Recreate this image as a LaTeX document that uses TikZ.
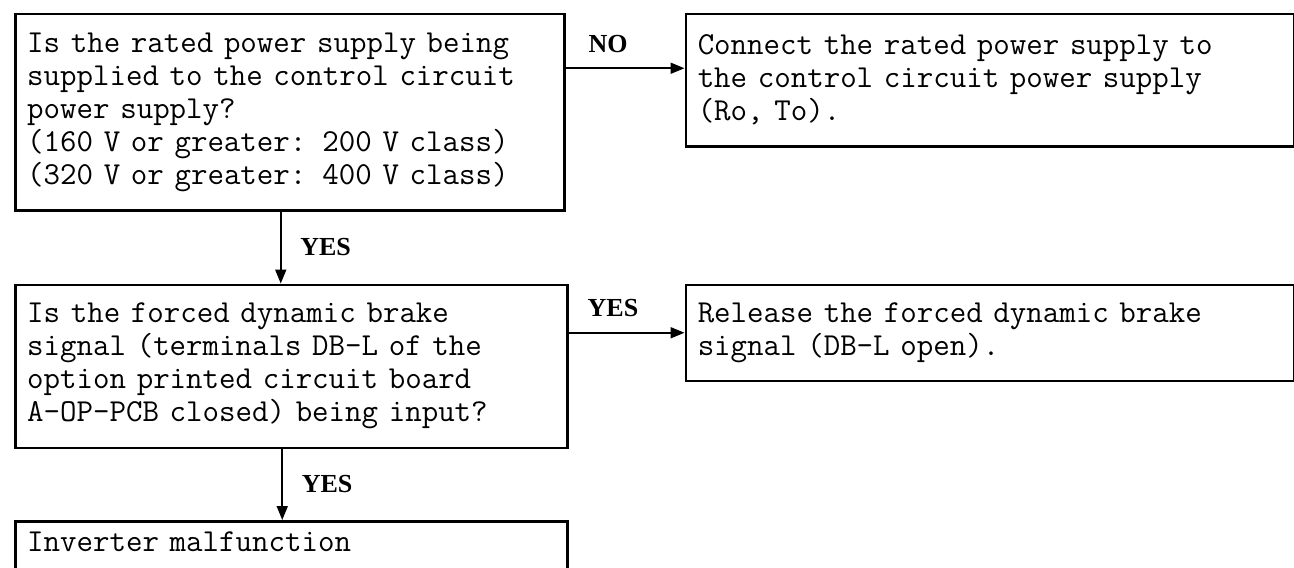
\documentclass[tikz,border=0pt]{standalone}
\usepackage{fontspec}
\newfontfamily\labfont{Liberation Serif}
\usetikzlibrary{arrows.meta, positioning}

\begin{document}
\begin{tikzpicture}[x=0.5pt, y=-0.5pt,
    chkbox/.style={draw, line width=1.25pt, anchor=north west, align=left, inner xsep=6pt,
        font={\ttfamily\fontsize{16}{16.5}\selectfont}},
    flow/.style={line width=0.9pt, -{Triangle[length=7pt, width=5.5pt]}},
    lbl/.style={font={\labfont\bfseries\fontsize{13}{15}\selectfont}}]
    \useasboundingbox (0,0) rectangle (1294,567);
    \node[chkbox, text width=262.5pt, minimum height=98pt] (supply) at (14,13)
        {Is the rated power supply being\\supplied to the control circuit\\power supply?\\(160 V or greater: 200 V class)\\(320 V or greater: 400 V class)};
    \node[chkbox, text width=292pt, minimum height=66pt, right=59.5pt of supply.north east, anchor=north west] (connect)
        {Connect the rated power supply to\\the control circuit power supply\\(Ro, To).};
    \node[chkbox, text width=264pt, minimum height=81.5pt, below=36pt of supply.south west, anchor=north west] (brake)
        {Is the forced dynamic brake\\signal (terminals DB-L of the\\option printed circuit board\\A-OP-PCB closed) being input?};
    \node[chkbox, text width=292pt, minimum height=48pt, right=58pt of brake.north east, anchor=north west] (release)
        {Release the forced dynamic brake\\signal (DB-L open).};
    \node[chkbox, text width=264pt, text height=11pt, text depth=40pt, inner ysep=4pt, below=35.5pt of brake.south west, anchor=north west] (fault)
        {Inverter malfunction};
    % connectors
    \draw[flow] (supply.east |- connect.west) ++(0,-12) coordinate (nostart) -- ([yshift=6pt]connect.west);
    \node[lbl, above right=4pt and 8pt of nostart] (no) {NO};
    \draw[flow] ([xshift=-4.5pt]supply.south) -- ([xshift=-4.5pt]supply.south |- brake.north) node[lbl, midway, right=6pt] (yes1) {YES};
    \draw[flow] (brake.east |- release.west) -- (release.west) node[lbl, pos=0.1, above right=4pt and 0pt] (yes2) {YES};
    \draw[flow] ([xshift=-4.5pt]brake.south) -- ([xshift=-4.5pt]brake.south |- fault.north) node[lbl, midway, right=6pt] (yes3) {YES};
\end{tikzpicture}
\end{document}
